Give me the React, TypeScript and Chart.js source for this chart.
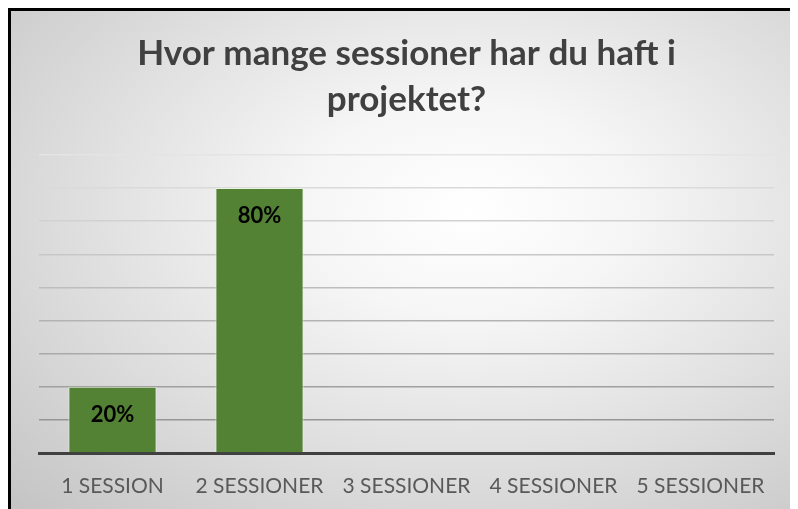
import React, { useEffect, useRef } from "react";
import { Chart, registerables } from "chart.js";

Chart.register(...registerables);

const categories = ["1 SESSION", "2 SESSIONER", "3 SESSIONER", "4 SESSIONER", "5 SESSIONER"];
const values = [0.2, 0.8, 0, 0, 0];
const valueLabels = ["20%", "80%", "", "", ""];
const titleLines = ["Hvor mange sessioner har du haft i", "projektet?"];
const yMax = 0.9;
const yStep = 0.1;

const dataLabelPlugin = {
  id: "dataLabels",
  afterDatasetsDraw(chart: any) {
    const ctx = chart.ctx;
    const meta = chart.getDatasetMeta(0);
    ctx.save();
    ctx.font = "bold 22px Lato, 'Liberation Sans', sans-serif";
    ctx.fillStyle = "#000000";
    ctx.textAlign = "center";
    ctx.textBaseline = "middle";
    meta.data.forEach((bar: any, i: number) => {
      const label = valueLabels[i];
      if (!label) return;
      ctx.fillText(label, bar.x, bar.y + 28);
    });
    ctx.restore();
  },
};

export default function App() {
  const ref = useRef<HTMLCanvasElement | null>(null);

  useEffect(() => {
    document.body.style.overflow = "hidden";
    const canvas = ref.current;
    if (!canvas) return;
    const chart = new Chart(canvas, {
      type: "bar",
      data: {
        labels: categories,
        datasets: [
          {
            data: values,
            backgroundColor: "#548235",
            borderColor: "rgba(235,245,225,0.8)",
            borderWidth: 1,
            barPercentage: 0.6,
            categoryPercentage: 1,
          },
        ],
      },
      options: {
        responsive: false,
        animation: false,
        layout: { padding: { left: 28, right: 24, top: 0, bottom: 0 } },
        plugins: {
          legend: { display: false },
          tooltip: { enabled: false },
          title: {
            display: true,
            text: titleLines,
            color: "#404040",
            font: { family: "Lato, 'Liberation Sans', sans-serif", size: 35, weight: "bold", lineHeight: 1.314 },
            padding: { top: 20, bottom: 32 },
          },
        },
        scales: {
          x: {
            grid: { display: false, drawTicks: false },
            border: { display: true, color: "#404040", width: 3 },
            ticks: {
              color: "#595959",
              font: { family: "Lato, 'Liberation Sans', sans-serif", size: 21 },
              padding: 21,
              maxRotation: 0,
              autoSkip: false,
            },
            afterFit(scale: any) {
              scale.height = 56;
            },
          },
          y: {
            min: 0,
            max: yMax,
            ticks: { display: false, stepSize: yStep },
            border: { display: false },
            grid: {
              drawTicks: false,
              lineWidth: 1.5,
              color: (c: any) => {
                const i = c.index;
                if (i === 0) return "rgba(0,0,0,0)";
                const t = (i - 1) / 8;
                const v = Math.round(150 + t * (228 - 150));
                return `rgb(${v},${v},${v})`;
              },
            },
            afterFit(scale: any) {
              scale.width = 0;
            },
          },
        },
      },
      plugins: [dataLabelPlugin],
    });
    return () => chart.destroy();
  }, []);

  return (
    <div
      style={{
        width: 787,
        height: 498,
        borderLeft: "3px solid #000",
        borderTop: "3px solid #000",
        background:
          "radial-gradient(ellipse farthest-corner at 58% 40%, #ffffff 0%, #f6f6f6 25%, #c4c4c4 100%)",
        overflow: "hidden",
      }}
    >
      <canvas ref={ref} width={787} height={498} style={{ display: "block" }} />
    </div>
  );
}
